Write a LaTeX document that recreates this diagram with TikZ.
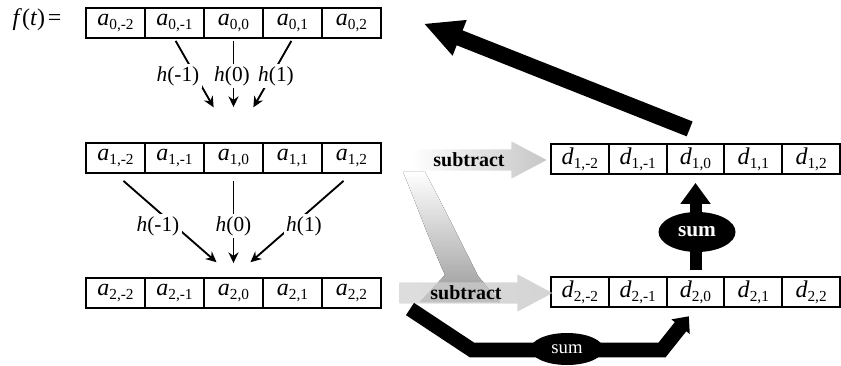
\documentclass[tikz,border=0pt]{standalone}
\usepackage{fontspec}
\setmainfont{Liberation Serif}
\usetikzlibrary{arrows}
\usetikzlibrary{arrows.meta}
\usetikzlibrary{shapes.geometric}
\usetikzlibrary{shapes.arrows}
\usetikzlibrary{positioning}
\newcommand{\coef}[2]{\textit{#1}\raisebox{-3pt}{\fontsize{11.5}{12}\selectfont#2}}
\tikzstyle{cell}=[rectangle,draw=black,line width=1.4pt,minimum width=44.25pt,minimum height=22.5pt,inner sep=0pt,font=\fontsize{18}{20}\selectfont]
\tikzstyle{dcell}=[cell,minimum width=43.35pt]
\tikzstyle{filt}=[fill=white,inner sep=2pt,font=\fontsize{16}{18}\selectfont]
\tikzstyle{arr}=[-{Stealth[length=8pt,width=7.5pt]},draw=black,line width=1.4pt]
\tikzstyle{subtr}=[single arrow,single arrow head extend=6pt,single arrow tip angle=56,inner sep=2.5pt,font=\bfseries\fontsize{15}{17}\selectfont]
\tikzstyle{back}=[-{Triangle[length=29pt,width=26.5pt]},line width=12pt]
\tikzstyle{sumup}=[-{Triangle[length=15.75pt,width=21.75pt]},line width=9pt]
\tikzstyle{sumalong}=[-{Triangle[length=10pt,width=17pt]},line width=11pt]
\tikzstyle{sumnode}=[ellipse,fill=black,text=white,inner sep=0pt]

\begin{document}
\begin{tikzpicture}[x=0.75pt,y=-0.75pt]
  \useasboundingbox (0,0) rectangle (841,366);
  \node[font=\fontsize{18}{20}\selectfont] (ft) at (37,20) {\textit{f}(\textit{t})\hspace{2pt}=};
  \node[cell] (a01) at (115.5,23) {\coef{a}{0,-2}};
  \node[cell] (a02) at (174.5,23) {\coef{a}{0,-1}};
  \node[cell] (a03) at (233.5,23) {\coef{a}{0,0}};
  \node[cell] (a04) at (292.5,23) {\coef{a}{0,1}};
  \node[cell] (a05) at (351.5,23) {\coef{a}{0,2}};
  \node[cell] (a11) at (115.5,158) {\coef{a}{1,-2}};
  \node[cell] (a12) at (174.5,158) {\coef{a}{1,-1}};
  \node[cell] (a13) at (233.5,158) {\coef{a}{1,0}};
  \node[cell] (a14) at (292.5,158) {\coef{a}{1,1}};
  \node[cell] (a15) at (351.5,158) {\coef{a}{1,2}};
  \node[cell] (a21) at (115.5,293) {\coef{a}{2,-2}};
  \node[cell] (a22) at (174.5,293) {\coef{a}{2,-1}};
  \node[cell] (a23) at (233.5,293) {\coef{a}{2,0}};
  \node[cell] (a24) at (292.5,293) {\coef{a}{2,1}};
  \node[cell] (a25) at (351.5,293) {\coef{a}{2,2}};
  \node[dcell] (d11) at (579.9,159) {\coef{d}{1,-2}};
  \node[dcell] (d12) at (637.7,159) {\coef{d}{1,-1}};
  \node[dcell] (d13) at (695.5,159) {\coef{d}{1,0}};
  \node[dcell] (d14) at (753.3,159) {\coef{d}{1,1}};
  \node[dcell] (d15) at (811.1,159) {\coef{d}{1,2}};
  \node[dcell] (d21) at (579.9,292) {\coef{d}{2,-2}};
  \node[dcell] (d22) at (637.7,292) {\coef{d}{2,-1}};
  \node[dcell] (d23) at (695.5,292) {\coef{d}{2,0}};
  \node[dcell] (d24) at (753.3,292) {\coef{d}{2,1}};
  \node[dcell] (d25) at (811.1,292) {\coef{d}{2,2}};

  \draw[arr,shorten <=1.7pt,shorten >=30pt] (a02.south) -- (a13.north);
  \draw[arr,shorten <=1.5pt,shorten >=26.25pt] (a03) -- (a13);
  \draw[arr,shorten <=1.7pt,shorten >=30pt] (a04.south) -- (a13.north);
  \draw[arr,shorten <=7.9pt,shorten >=16.9pt] (a11.south) -- (a23.north);
  \draw[arr,shorten <=5.25pt,shorten >=10.5pt] (a13) -- (a23);
  \draw[arr,shorten <=7.9pt,shorten >=16.9pt] (a15.south) -- (a23.north);
  \node[filt] (h0l) at (178,76) {\textit{h}(-1)};
  \node[filt] (h0c) at (232,76) {\textit{h}(0)};
  \node[filt] (h0r) at (276,76) {\textit{h}(1)};
  \node[filt] (h1l) at (158,226) {\textit{h}(-1)};
  \node[filt] (h1c) at (233.5,226) {\textit{h}(0)};
  \node[filt] (h1r) at (304,226) {\textit{h}(1)};

  \node[subtr,minimum height=101.25pt,left color=white,right color=gray!45] (s1) at (469,160) {subtract};
  \fill[top color=white,bottom color=gray!80] (403,172) .. controls (415,200) and (425,230) .. (445,275) -- (420,302) -- (500,302) -- (478,276) .. controls (460,240) and (440,200) .. (425,172) -- cycle;
  \node[subtr,minimum height=114.75pt,left color=gray!35,right color=gray!45,fill opacity=0.75,text opacity=1] (s2) at (466,293) {subtract};

  \draw[back,shorten <=28.8pt,shorten >=33.7pt] (d13.north east) -- (a05.north east);
  \draw[sumup,shorten <=4.5pt,shorten >=6pt] (d23) -- (d13);
  \node[sumnode,minimum width=57.75pt,minimum height=30pt,font=\bfseries\fontsize{16}{18}\selectfont] (sum1) at (697,232) {sum};
  \coordinate (sumfrom) at (410,309);
  \draw[sumalong,shorten >=8pt] (sumfrom) -- (472,350) -- (662,350) -- (d23.south);
  \node[sumnode,minimum width=54.75pt,minimum height=24pt,font=\fontsize{14}{16}\selectfont] (sum2) at (567,349) {sum};
\end{tikzpicture}
\end{document}
